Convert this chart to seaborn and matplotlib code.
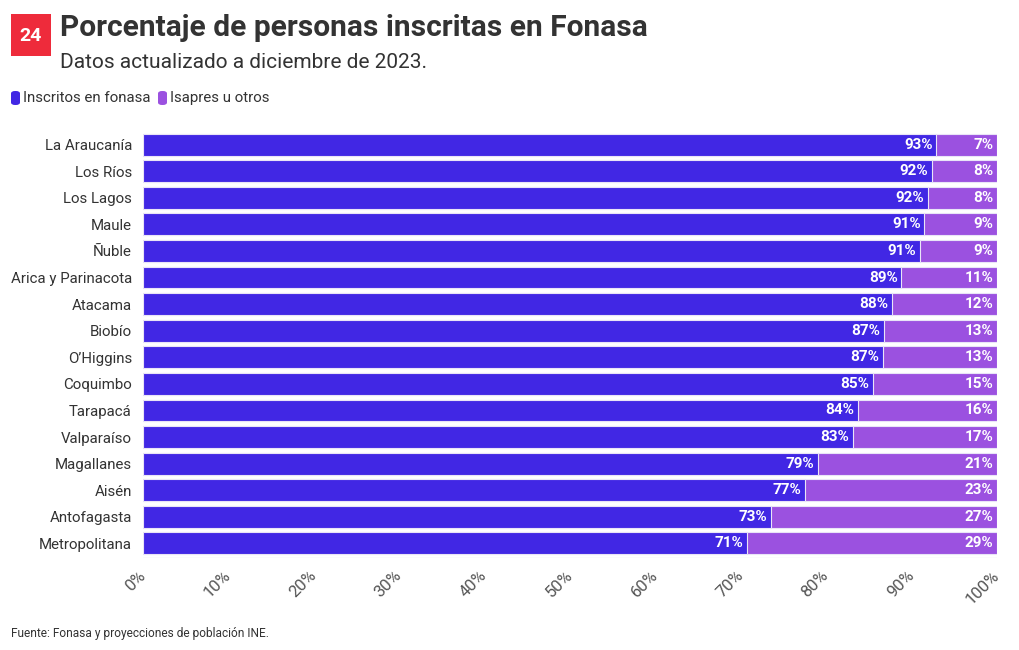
import matplotlib
matplotlib.use("Agg")
import matplotlib.pyplot as plt
import matplotlib.transforms as mtrans
import seaborn as sns
import pandas as pd
from matplotlib.patches import FancyBboxPatch

regiones = ["La Araucanía", "Los Ríos", "Los Lagos", "Maule", "Ñuble",
            "Arica y Parinacota", "Atacama", "Biobío", "O’Higgins", "Coquimbo",
            "Tarapacá", "Valparaíso", "Magallanes", "Aisén", "Antofagasta",
            "Metropolitana"]
fonasa = [92.9, 92.4, 91.9, 91.5, 91.0, 88.8, 87.7, 86.8, 86.7, 85.5,
          83.7, 83.1, 79.0, 77.5, 73.5, 70.7]
isapres = [100 - v for v in fonasa]
fonasa_lbl = [93, 92, 92, 91, 91, 89, 88, 87, 87, 85, 84, 83, 79, 77, 73, 71]
isapres_lbl = [7, 8, 8, 9, 9, 11, 12, 13, 13, 15, 16, 17, 21, 23, 27, 29]
xticks = [0, 10, 20, 30, 40, 50, 60, 70, 80, 90, 100]

C_BLUE = "#4127E4"
C_PURP = "#9B51E0"
TXT = "#333333"

sns.set_theme(style="white")
plt.rcParams["font.family"] = ["Roboto", "DejaVu Sans"]

df = pd.DataFrame({"region": regiones, "fonasa": fonasa,
                   "total": [f + i for f, i in zip(fonasa, isapres)]})

fig = plt.figure(figsize=(10.2, 6.5), dpi=100)
ax = fig.add_axes([143/1020, 1 - 558/650, (997-143)/1020, (558-130)/650])

sns.barplot(data=df, y="region", x="total", color=C_PURP, orient="h",
            width=0.82, ax=ax, edgecolor="#e9e4f7", linewidth=0.8,
            saturation=1)
sns.barplot(data=df, y="region", x="fonasa", color=C_BLUE, orient="h",
            width=0.82, ax=ax, edgecolor="#e9e4f7", linewidth=0.8,
            saturation=1)

for i, (f, fl, il) in enumerate(zip(fonasa, fonasa_lbl, isapres_lbl)):
    ax.text(f - 0.45, i, f"{fl}%", ha="right", va="center", color="white",
            fontsize=11, fontweight="bold")
    ax.text(99.55, i, f"{il}%", ha="right", va="center", color="white",
            fontsize=11, fontweight="bold")

ax.set_xlim(0, 100)
ax.set_ylim(len(regiones) - 0.5 + 0.05, -0.5 - 0.05)
ax.set_xticks(xticks)
ax.set_xticklabels([f"{t}%" for t in xticks], rotation=45,
                   fontsize=12, color="#555555")
shift = mtrans.ScaledTranslation(5/100, 0, fig.dpi_scale_trans)
for lbl in ax.get_xticklabels():
    lbl.set_rotation_mode("anchor")
    lbl.set_ha("right")
    lbl.set_va("center")
    lbl.set_transform(lbl.get_transform() + shift)
ax.tick_params(axis="x", length=5, color="#ece8f8", pad=6)
ax.tick_params(axis="y", length=5, color="#ece8f8", labelsize=10.8,
               labelcolor=TXT, pad=3)
ax.set_xlabel("")
ax.set_ylabel("")
for s in ax.spines.values():
    s.set_visible(False)
ax.axhline(len(regiones) - 0.5 + 0.05, color="#ece8f8", lw=1)

# Logo
logo = fig.add_axes([11/1020, 1 - 56/650, 40/1020, 42/650])
logo.set_facecolor("#EE2B3B")
logo.set_xticks([]); logo.set_yticks([])
for s in logo.spines.values():
    s.set_visible(False)
logo.text(0.5, 0.48, "24", ha="center", va="center", color="white",
          fontsize=14, fontweight="bold", transform=logo.transAxes)

fig.text(60/1020, 1 - 28/650, "Porcentaje de personas inscritas en Fonasa",
         ha="left", va="center", fontsize=21.5, fontweight="bold", color=TXT)
fig.text(60/1020, 1 - 63/650, "Datos actualizado a diciembre de 2023.",
         ha="left", va="center", fontsize=15, color=TXT)

# Legend
for x0, col, lab in [(11, C_BLUE, "Inscritos en fonasa"),
                     (158, C_PURP, "Isapres u otros")]:
    fig.patches.append(FancyBboxPatch((x0/1020, 1 - 105/650), 9/1020, 14/650,
                                      boxstyle="round,pad=0,rounding_size=0.004",
                                      transform=fig.transFigure, facecolor=col,
                                      edgecolor="none"))
    fig.text((x0 + 12)/1020, 1 - 98/650, lab, ha="left", va="center",
             fontsize=10.8, color=TXT)

fig.text(11/1020, 1 - 633/650, "Fuente: Fonasa y proyecciones de población INE.",
         ha="left", va="center", fontsize=8.6, color=TXT)

fig.savefig("out.png", dpi=100, facecolor="white")
